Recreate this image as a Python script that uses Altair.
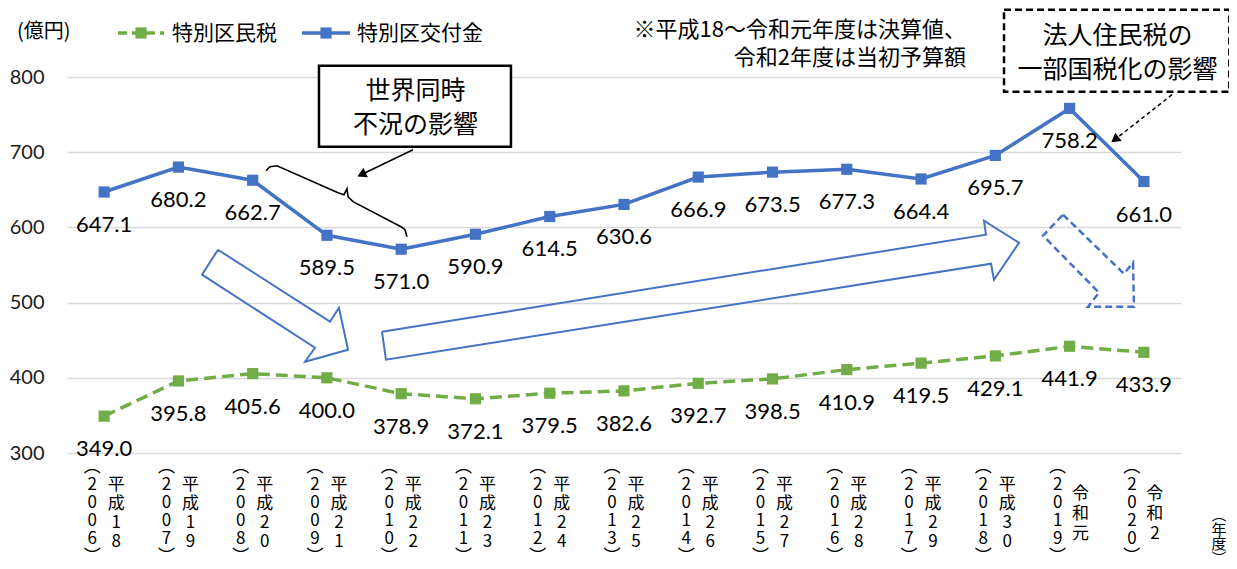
import altair as alt
import pandas as pd

# ---------------- data ----------------
years = ["2006", "2007", "2008", "2009", "2010", "2011", "2012", "2013",
         "2014", "2015", "2016", "2017", "2018", "2019", "2020"]
eras = ["平成18", "平成19", "平成20", "平成21", "平成22", "平成23", "平成24", "平成25",
        "平成26", "平成27", "平成28", "平成29", "平成30", "令和元", "令和2"]
kofukin = [647.1, 680.2, 662.7, 589.5, 571.0, 590.9, 614.5, 630.6,
           666.9, 673.5, 677.3, 664.4, 695.7, 758.2, 661.0]   # 特別区交付金
minzei = [349.0, 395.8, 405.6, 400.0, 378.9, 372.1, 379.5, 382.6,
          392.7, 398.5, 410.9, 419.5, 429.1, 441.9, 433.9]    # 特別区民税
y_ticks = [300, 400, 500, 600, 700, 800]

# annotation shapes in data units (x = category index, y = 億円)
arrow_down_x = [1.533, 3.041, 3.162, 3.284, 2.705, 2.839, 1.318, 1.533]
arrow_down_y = [570.3, 474.6, 493.2, 437.4, 421.4, 440.0, 537.1, 570.3]
arrow_up_x = [3.741, 11.874, 11.847, 12.319, 11.982, 11.942, 3.795, 3.741]
arrow_up_y = [461.3, 590.3, 608.9, 579.6, 530.4, 551.7, 424.1, 461.3]
arrow_dash_x = [12.911, 13.732, 13.854, 13.867, 13.248, 13.396, 12.642, 12.911]
arrow_dash_y = [616.9, 538.4, 553.1, 494.5, 494.5, 513.2, 589.0, 616.9]
brace_x = [2.180, 2.233, 2.328, 3.149, 3.230, 3.270, 3.284, 3.351, 3.997, 4.051, 4.078]
brace_y = [675.4, 680.7, 682.0, 646.1, 643.5, 651.5, 640.8, 634.2, 600.9, 596.9, 587.6]
box1 = {"x": 2.893, "x2": 5.478, "y": 815.0, "y2": 707.3, "tx": 4.193, "ty": 780.9,
        "text": "世界同時\n不況の影響"}
box2 = {"x": 12.117, "x2": 15.15, "y": 889.5, "y2": 780.5, "tx": 13.645, "ty": 854.9,
        "text": "法人住民税の\n一部国税化の影響"}
ptr1_x = [4.159, 3.466]
ptr1_y = [703.3, 670.3]
ptr2_x = [14.379, 13.610]
ptr2_y = [776.5, 716.8]

BLUE = "#4472C4"
GREEN = "#70AD47"
JP = "Noto Sans CJK JP"
NUM = "Lato"

df = pd.DataFrame({"i": list(range(len(years))), "year": years, "era": eras,
                   "kofukin": kofukin, "minzei": minzei})
df["year_v"] = df["year"].apply(lambda s: "\n".join(["︵"] + list(s) + ["︶"]))
df["era_v"] = df["era"].apply(lambda s: "\n".join(list(s)))

xs = alt.Scale(domain=[-0.5, 14.5], nice=False, zero=False)
ys = alt.Scale(domain=[300, 800], nice=False, zero=False)
X = alt.X("i:Q", scale=xs, axis=None)

yaxis = alt.Axis(values=y_ticks, grid=True, gridColor="#d9d9d9", gridWidth=1.3,
                 domain=False, ticks=False, tickSize=0, labelFont=NUM, labelFontSize=20,
                 labelColor="#1a1a1a", labelPadding=23, title=None)


def Y(field):
    return alt.Y(field, scale=ys, axis=yaxis)


base = alt.Chart(df)

blue_line = base.mark_line(color=BLUE, strokeWidth=3.5).encode(x=X, y=Y("kofukin:Q"))
blue_pts = base.mark_point(shape="square", filled=True, size=125, color=BLUE, opacity=1).encode(
    x=X, y=Y("kofukin:Q"))
blue_lbl = base.mark_text(dy=33, font=NUM, fontSize=22, color="#000").encode(
    x=X, y=Y("kofukin:Q"), text=alt.Text("kofukin:Q", format=".1f"))

green_line = base.mark_line(color=GREEN, strokeWidth=3.5, strokeDash=[12, 6]).encode(
    x=X, y=Y("minzei:Q"))
green_pts = base.mark_point(shape="square", filled=True, size=125, color=GREEN, opacity=1).encode(
    x=X, y=Y("minzei:Q"))
green_lbl = base.mark_text(dy=33, font=NUM, fontSize=22, color="#000").encode(
    x=X, y=Y("minzei:Q"), text=alt.Text("minzei:Q", format=".1f"))

# x-axis labels (vertical text, first line placed at y)
year_lbl = base.mark_text(dx=-12, font=JP, fontSize=17, lineBreak="\n", lineHeight=18,
                          color="#000").encode(x=X, y=alt.value(390), text="year_v:N")
era4_lbl = base.transform_filter("length(datum.era) == 4").mark_text(
    dx=12, font=JP, fontSize=17, lineBreak="\n", lineHeight=19, color="#000").encode(
    x=X, y=alt.value(408), text="era_v:N")
era3_lbl = base.transform_filter("length(datum.era) == 3").mark_text(
    dx=11, font=JP, fontSize=17, lineBreak="\n", lineHeight=20, color="#000").encode(
    x=X, y=alt.value(417), text="era_v:N")


# shapes
def poly(xv, yv):
    return pd.DataFrame({"x": xv, "y": yv, "k": list(range(len(xv)))})


def shape_line(d, **kw):
    return alt.Chart(d).mark_line(**kw).encode(
        x=alt.X("x:Q", scale=xs, axis=None), y=Y("y:Q"), order=alt.Order("k:Q"))


arr1 = shape_line(poly(arrow_down_x, arrow_down_y), color=BLUE, strokeWidth=2, strokeJoin="miter")
arr2 = shape_line(poly(arrow_up_x, arrow_up_y), color=BLUE, strokeWidth=2, strokeJoin="miter")
arr3 = shape_line(poly(arrow_dash_x, arrow_dash_y), color=BLUE, strokeWidth=2.5,
                  strokeDash=[7, 4], strokeJoin="miter")
brace = shape_line(poly(brace_x, brace_y), color="#000", strokeWidth=1.6)


def box(b, **kw):
    d = pd.DataFrame([b])
    r = alt.Chart(d).mark_rect(fill="white", stroke="#000", **kw).encode(
        x=alt.X("x:Q", scale=xs, axis=None), x2="x2:Q", y=Y("y:Q"), y2="y2:Q")
    t = alt.Chart(d).mark_text(font=JP, fontSize=25, lineBreak="\n", lineHeight=34,
                               color="#000").encode(
        x=alt.X("tx:Q", scale=xs, axis=None), y=Y("ty:Q"), text="text:N")
    return [r, t]


b1 = box(box1, strokeWidth=2.5)
b2 = box(box2, strokeWidth=2.5, strokeDash=[7, 4])

p1 = shape_line(poly(ptr1_x, ptr1_y), color="#000", strokeWidth=1.5)
p1h = alt.Chart(poly(ptr1_x[1:], ptr1_y[1:])).mark_point(
    shape="triangle-up", filled=True, size=110, color="#000", opacity=1, angle=244).encode(
    x=alt.X("x:Q", scale=xs, axis=None), y=Y("y:Q"))
p2 = shape_line(poly(ptr2_x, ptr2_y), color="#000", strokeWidth=1.5, strokeDash=[4, 3])
p2h = alt.Chart(poly(ptr2_x[1:], ptr2_y[1:])).mark_point(
    shape="triangle-up", filled=True, size=110, color="#000", opacity=1, angle=232).encode(
    x=alt.X("x:Q", scale=xs, axis=None), y=Y("y:Q"))

# legend & header texts
one = pd.DataFrame({"a": [0]})


def txt(s, x, y, size=21, align="left", lh=None, font=JP):
    kw = dict(font=font, fontSize=size, align=align, color="#000", lineBreak="\n")
    if lh:
        kw["lineHeight"] = lh
    return alt.Chart(one).mark_text(**kw).encode(
        x=alt.value(x), y=alt.value(y), text=alt.value(s))


unit = txt("(億円)", -50, -45, size=20)
leg_g_rule = alt.Chart(one).mark_rule(color=GREEN, strokeWidth=3.5, strokeDash=[9, 5]).encode(
    x=alt.value(51), x2=alt.value(97), y=alt.value(-44))
leg_g_pt = alt.Chart(one).mark_point(shape="square", filled=True, size=125, color=GREEN,
                                     opacity=1).encode(x=alt.value(74), y=alt.value(-44))
leg_g_txt = txt("特別区民税", 105, -43)
leg_b_rule = alt.Chart(one).mark_rule(color=BLUE, strokeWidth=3.5).encode(
    x=alt.value(235), x2=alt.value(283), y=alt.value(-44))
leg_b_pt = alt.Chart(one).mark_point(shape="square", filled=True, size=125, color=BLUE,
                                     opacity=1).encode(x=alt.value(259), y=alt.value(-44))
leg_b_txt = txt("特別区交付金", 290, -43)
note = txt("※平成18～令和元年度は決算値、\n令和2年度は当初予算額", 899, -47, size=22,
           align="right", lh=28)
nendo = txt("︵\n年\n度\n︶", 1152, 438, size=15, align="center", lh=14.5)

chart = alt.layer(
    blue_line, arr1, arr2, arr3, brace, *b1, p1, p1h, *b2, p2, p2h,
    blue_pts, blue_lbl, green_line, green_pts, green_lbl,
    year_lbl, era4_lbl, era3_lbl,
    unit, leg_g_rule, leg_g_pt, leg_g_txt, leg_b_rule, leg_b_pt, leg_b_txt, note, nendo,
).properties(
    width=1114, height=376,
    autosize=alt.AutoSizeParams(type="none"),
    padding={"left": 59, "top": 69, "right": 48, "bottom": 114},
).configure_view(stroke=None)

chart.save("out.html", embed_options={"renderer": "svg", "actions": False})
